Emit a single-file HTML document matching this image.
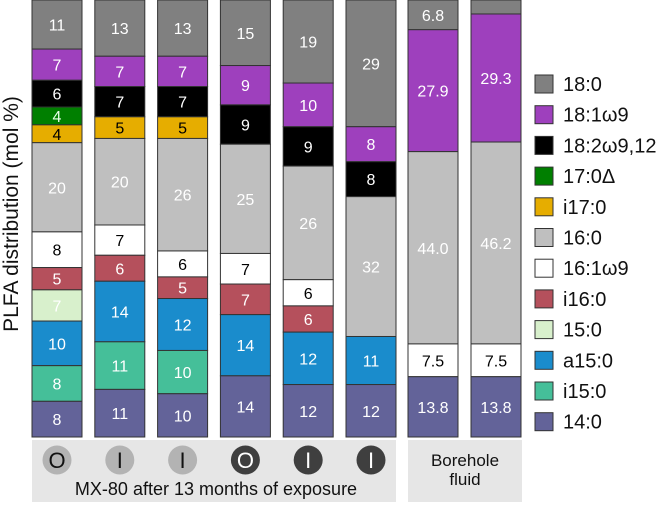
<!DOCTYPE html>
<html><head><meta charset="utf-8"><style>
body{margin:0;background:#fff;width:666px;height:502px;overflow:hidden;font-family:"Liberation Sans",sans-serif}
</style></head><body>
<svg id="chart" width="666" height="502" xmlns="http://www.w3.org/2000/svg" font-family="Liberation Sans, sans-serif">
<rect x="32" y="440" width="364" height="62" fill="#e6e6e6"/>
<rect x="408" y="440" width="114" height="62" fill="#e6e6e6"/>
<text x="216" y="495" font-size="18" text-anchor="middle" fill="#111">MX-80 after 13 months of exposure</text>
<text x="465" y="466" font-size="17" text-anchor="middle" fill="#111">Borehole</text>
<text x="465" y="485" font-size="17" text-anchor="middle" fill="#111">fluid</text>
<text transform="translate(18,214) rotate(-90)" font-size="21" text-anchor="middle" fill="#111">PLFA distribution (mol %)</text>
<g id="bars"></g><g id="circles"></g><g id="legend"></g>
</svg>
<script>
const series = ["18:0","18:1ω9","18:2ω9,12","17:0Δ","i17:0","16:0","16:1ω9","i16:0","15:0","a15:0","i15:0","14:0"];
const colors = ["#808080","#9e40bd","#000000","#007f00","#e6ad00","#bfbfbf","#ffffff","#b5505c","#d8f0cc","#1a8ccc","#45bf99","#636399"];
const textColors = ["#fff","#fff","#fff","#e8ffe8","#000","#fff","#000","#fff","#fff","#fff","#fff","#fff"];
const bar1 = [11,7,6,4,4,20,8,5,7,10,8,8];
const bar2 = [13,7,7,0,5,20,7,6,0,14,11,11];
const bar3 = [13,7,7,0,5,26,6,5,0,12,10,10];
const bar4 = [15,9,9,0,0,25,7,7,0,14,0,14];
const bar5 = [19,10,9,0,0,26,6,6,0,12,0,12];
const bar6 = [29,8,8,0,0,32,0,0,0,11,0,12];
const bar7 = [6.8,27.9,0,0,0,44.0,7.5,0,0,0,0,13.8];
const bar8 = [3.2,29.3,0,0,0,46.2,7.5,0,0,0,0,13.8];
const barLabels = [null,null,null,null,null,null,
 ["6.8","27.9","","","","44.0","7.5","","","","","13.8"],["","29.3","","","","46.2","7.5","","","","","13.8"]];
const bars=[bar1,bar2,bar3,bar4,bar5,bar6,bar7,bar8];
const circleTypes=["O","I","I","O","I","I"];
const circleDark=[false,false,false,true,true,true];
const NS="http://www.w3.org/2000/svg";
const top0=0,bot=437;
const xPos=i=>i<6?32+i*62.8:408+(i-6)*63;
const bw=50;
const g=document.getElementById('bars');
bars.forEach((b,i)=>{
 const sum=b.reduce((a,c)=>a+c,0);
 const sc=v=>v/sum*(bot-top0);
 let y=top0;
 b.forEach((v,k)=>{
  if(!v)return;
  const h=sc(v);
  const r=document.createElementNS(NS,'rect');
  r.setAttribute('x',xPos(i));r.setAttribute('y',y);r.setAttribute('width',bw);r.setAttribute('height',h);
  r.setAttribute('fill',colors[k]);r.setAttribute('stroke','#333');r.setAttribute('stroke-width','1');
  
  
  g.appendChild(r);
  const lab=barLabels[i]?barLabels[i][k]:String(v);
  if(lab){
   const t=document.createElementNS(NS,'text');
   t.setAttribute('x',xPos(i)+bw/2);t.setAttribute('y',y+h/2+6);
   t.setAttribute('text-anchor','middle');t.setAttribute('font-size','16');t.setAttribute('fill',textColors[k]);
   t.textContent=lab;
   
   
   g.appendChild(t);
  }
  y+=h;
 });
});
const cg=document.getElementById('circles');
circleTypes.forEach((c,i)=>{
 const cx=xPos(i)+bw/2;
 const ci=document.createElementNS(NS,'circle');
 ci.setAttribute('cx',cx);ci.setAttribute('cy',460);ci.setAttribute('r',14.5);
 ci.setAttribute('fill',circleDark[i]?'#3f3f3f':'#b3b3b3');
 
 
 cg.appendChild(ci);
 const t=document.createElementNS(NS,'text');
 t.setAttribute('x',cx);t.setAttribute('y',468);t.setAttribute('text-anchor','middle');
 t.setAttribute('font-size','22');t.setAttribute('fill',circleDark[i]?'#fff':'#111');
 t.textContent=c;
 
 
 cg.appendChild(t);
});
const lg=document.getElementById('legend');
series.forEach((s,k)=>{
 const y=75+k*30.7;
 const r=document.createElementNS(NS,'rect');
 r.setAttribute('x',535);r.setAttribute('y',y);r.setAttribute('width',18);r.setAttribute('height',18);
 r.setAttribute('fill',colors[k]);r.setAttribute('stroke','#333');r.setAttribute('stroke-width','1');
 
 
 lg.appendChild(r);
 const t=document.createElementNS(NS,'text');
 t.setAttribute('x',563);t.setAttribute('y',y+16);t.setAttribute('font-size','20');t.setAttribute('fill','#111');
 t.textContent=s;
 
 
 lg.appendChild(t);
});
</script>
</body></html>
